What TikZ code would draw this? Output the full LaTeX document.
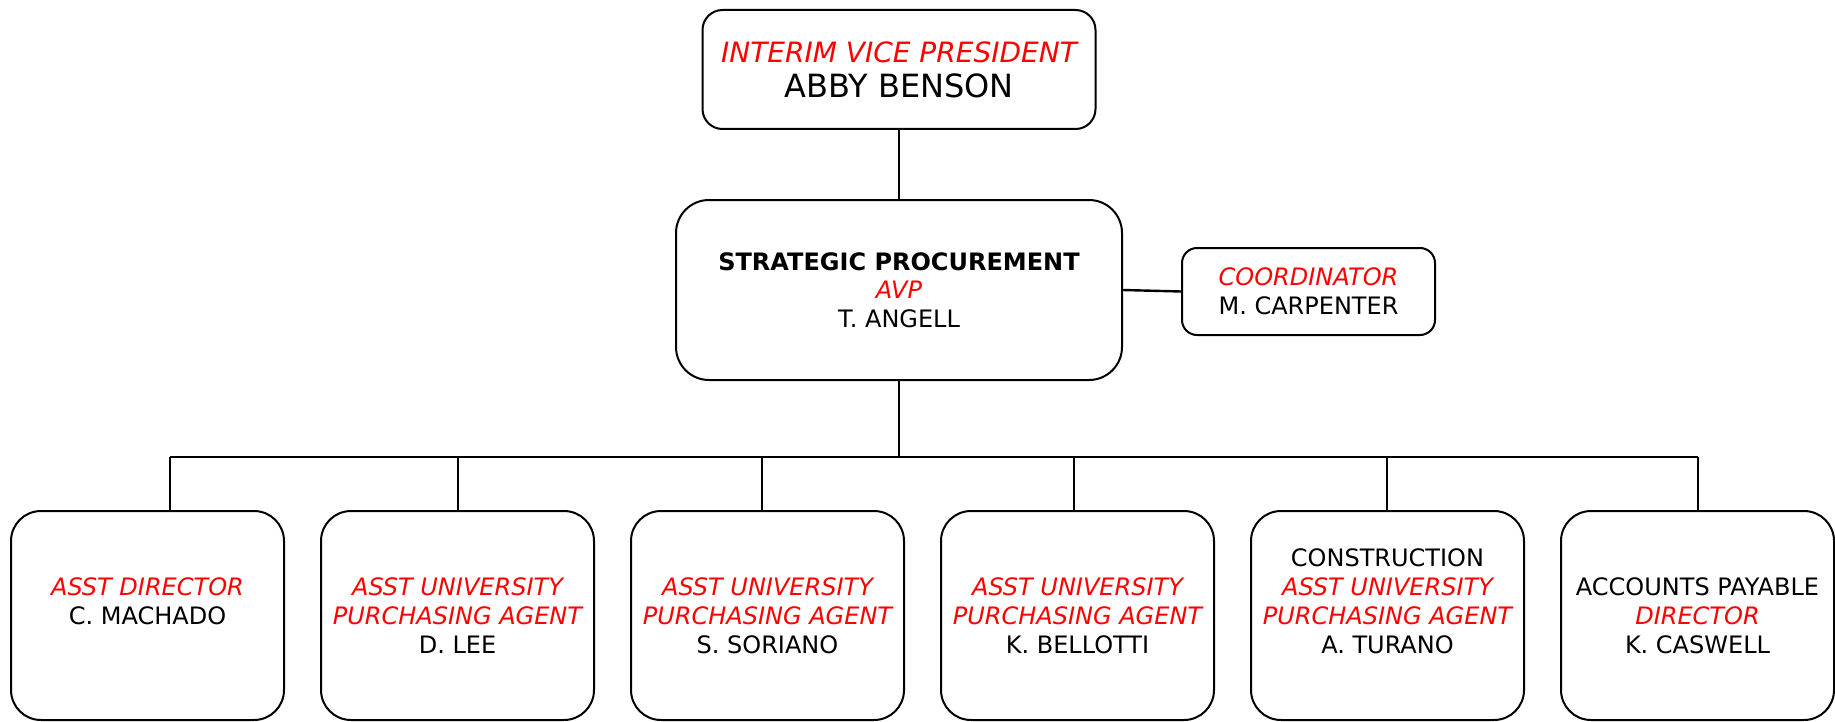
\documentclass[tikz,border=0pt]{standalone}
\usepackage{fontspec}
\setmainfont{DejaVu Sans}
\usetikzlibrary{positioning}
\newcommand{\post}[1]{\textcolor{red}{\itshape #1}}

\begin{document}
\begin{tikzpicture}[x=0.5pt, y=-0.5pt, font=\fontsize{12}{14.5}\selectfont,
  card/.style={draw, line width=1pt, align=center, inner sep=0pt, rounded corners=15pt,
    minimum width=136.5pt, minimum height=104.5pt},
  link/.style={line width=1.2pt}]

\useasboundingbox [fill=white] (0,0) rectangle (1835,722);

% head and strategic procurement
\node [draw, line width=1pt, align=center, inner sep=0pt, rounded corners=16.5pt,
  minimum width=223pt, minimum height=90pt, font=\fontsize{12}{14.25}\selectfont]
  (avp) at (899,290) {\textbf{STRATEGIC PROCUREMENT}\\\post{AVP}\\T. ANGELL};
\node [draw, line width=1pt, align=center, inner sep=0pt, rounded corners=10pt,
  minimum width=196.5pt, minimum height=59.5pt, font=\fontsize{16}{17.5}\selectfont,
  above = 34.5pt of avp] (vp) {{\fontsize{14}{17.5}\selectfont\post{INTERIM VICE PRESIDENT}}\\ABBY BENSON};
\node [draw, line width=1pt, align=center, inner sep=0pt, rounded corners=7.5pt,
  minimum width=126.5pt, minimum height=43.5pt, right = 29pt of avp, yshift=-0.75pt]
  (coord) {\post{COORDINATOR}\\M. CARPENTER};

\draw [link] (vp) -- (avp);
\draw [link] (avp.east) -- (coord.west);

% bottom row
\node [card] (b1) at (147.5,615.5) {\post{ASST DIRECTOR}\\C. MACHADO\\\mbox{}};
\node [card, right = 17.5pt of b1] (b2) {\post{ASST UNIVERSITY}\\\post{PURCHASING AGENT}\\D. LEE};
\node [card, right = 17.5pt of b2] (b3) {\post{ASST UNIVERSITY}\\\post{PURCHASING AGENT}\\S. SORIANO};
\node [card, right = 17.5pt of b3] (b4) {\post{ASST UNIVERSITY}\\\post{PURCHASING AGENT}\\K. BELLOTTI};
\node [card, right = 17.5pt of b4] (b5) {CONSTRUCTION\\\post{ASST UNIVERSITY}\\\post{PURCHASING AGENT}\\A. TURANO\\\mbox{}};
\node [card, right = 17.5pt of b5] (b6) {ACCOUNTS PAYABLE\\\post{DIRECTOR}\\K. CASWELL};

% bus and drops
\coordinate (bus) at (899,457);
\coordinate (d1) at (170,457);
\coordinate (d2) at (458,457);
\coordinate (d3) at (762,457);
\coordinate (d4) at (1074,457);
\coordinate (d5) at (1387,457);
\coordinate (d6) at (1698,457);
\draw [link] (avp) -- (bus);
\draw [link] (d1) -- (d6);
\draw [link] (d1) -- (d1 |- b1.north);
\draw [link] (d2) -- (d2 |- b2.north);
\draw [link] (d3) -- (d3 |- b3.north);
\draw [link] (d4) -- (d4 |- b4.north);
\draw [link] (d5) -- (d5 |- b5.north);
\draw [link] (d6) -- (d6 |- b6.north);

\end{tikzpicture}
\end{document}
